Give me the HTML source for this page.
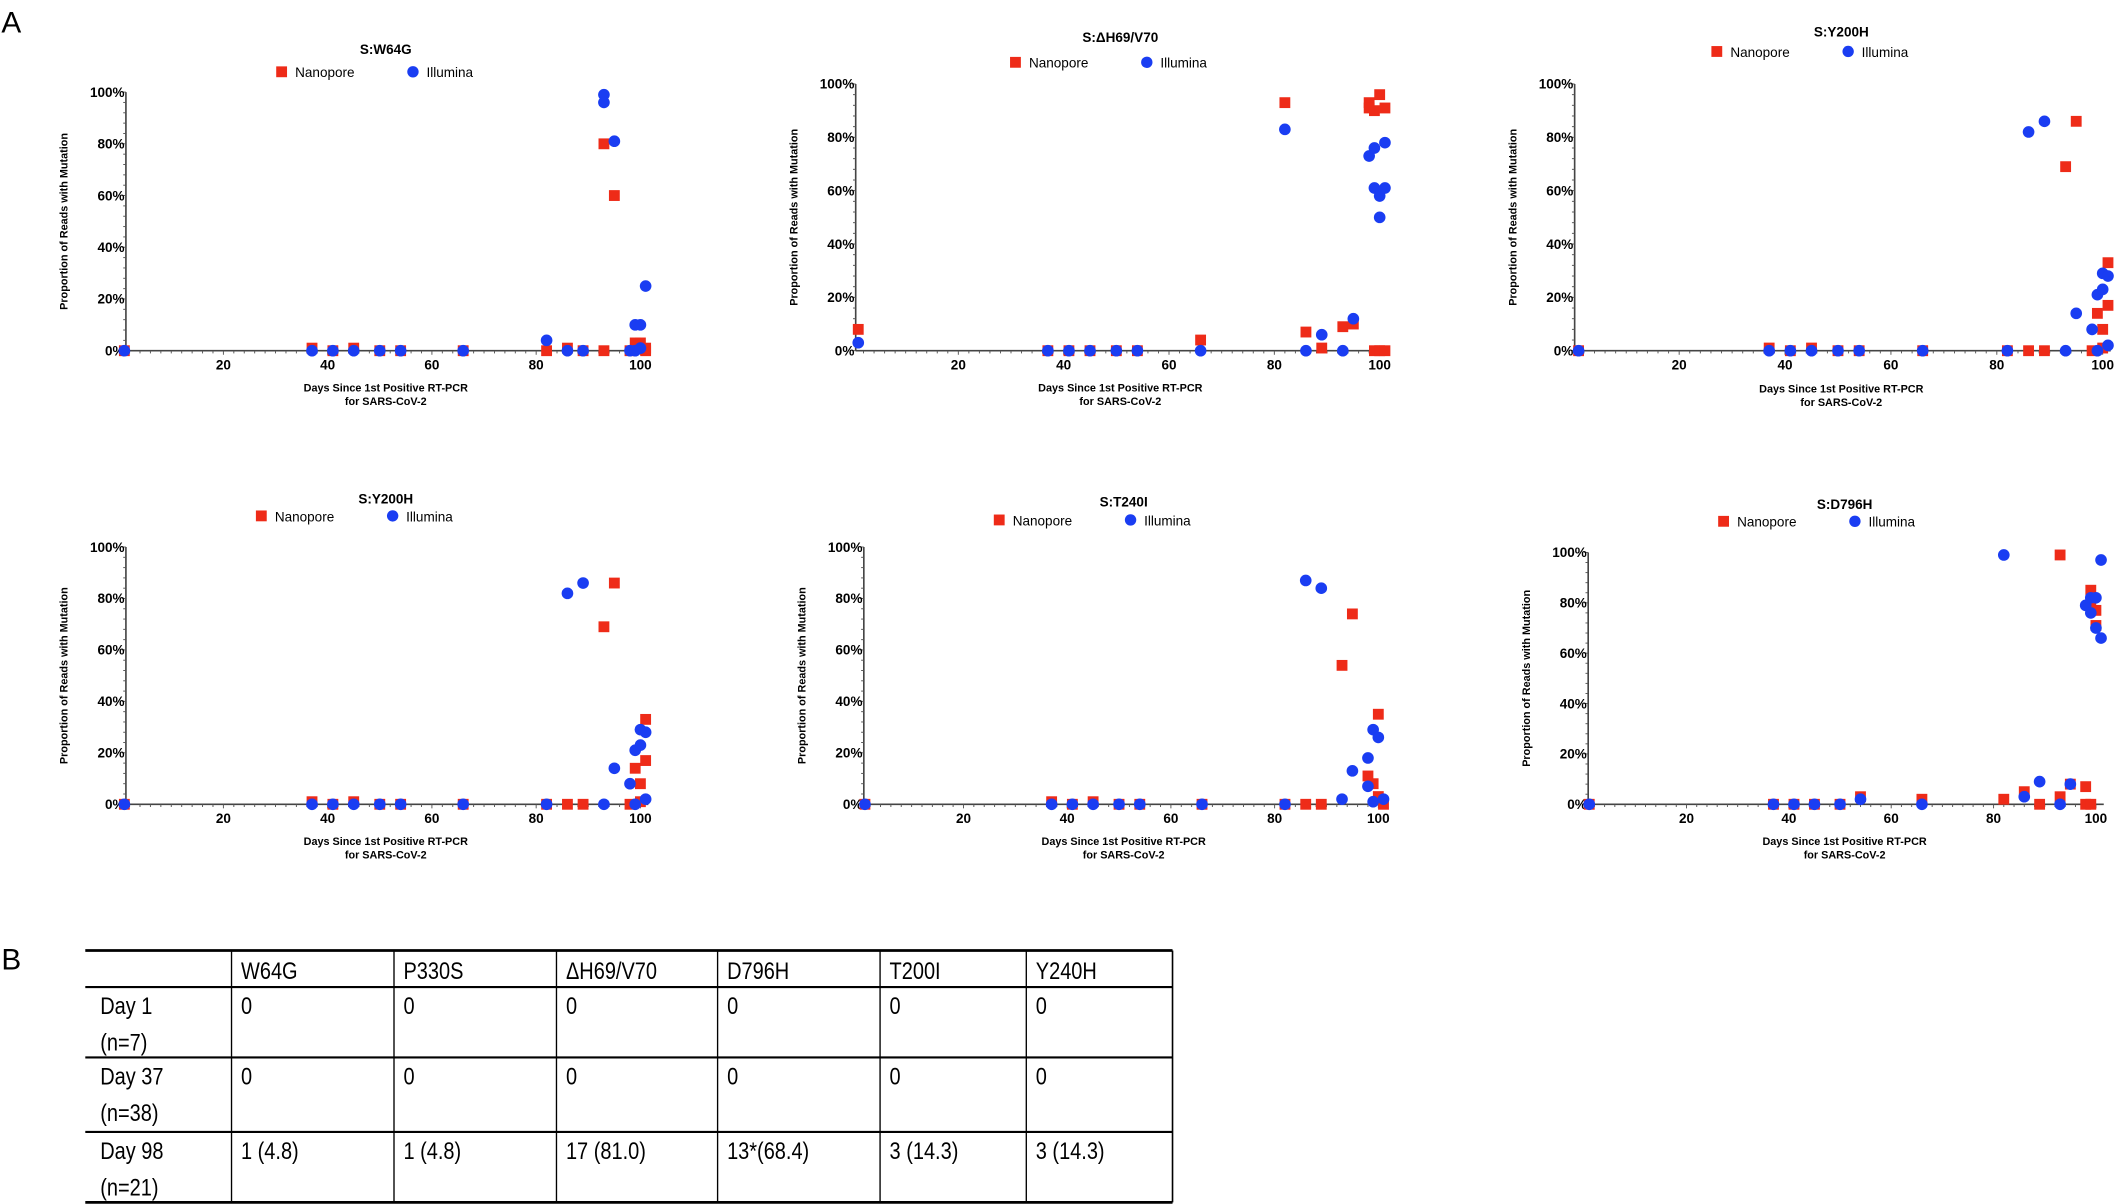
<!DOCTYPE html>
<html><head><meta charset="utf-8"><style>
html,body{margin:0;padding:0;background:#fff;}
svg{display:block;}
text{font-family:"Liberation Sans",Arial,sans-serif;}
</style></head><body>
<svg id="s" width="2123" height="1204" viewBox="0 0 1568 889.2" xmlns="http://www.w3.org/2000/svg">
<rect width="1568" height="890" fill="#fff"/>
<text x="1" y="24" font-size="22" font-family="Liberation Sans">A</text>
<text x="1" y="716" font-size="22" font-family="Liberation Sans">B</text>
<g id="g"></g>
<g id="tbl" font-size="18"></g>
</svg>
<script>
const g=document.getElementById('g');
let h='';
const R='#ee2b18',B='#1a3df2';
const zN=[[1,0],[37,1],[41,0],[45,1],[50,0],[54,0],[66,0],[82,0],[86,0],[89,0]];
const zI=[[1,0],[37,0],[41,0],[45,0],[50,0],[54,0],[66,0],[82,0],[86,0],[89,0]];
const p34={t:'S:Y200H',N:zN.concat([[93,69],[95,86],[98,0],[99,14],[100,8],[101,33],[101,17],[100,1]]),
 I:zI.filter(p=>p[0]<86).concat([[86,82],[89,86],[93,0],[95,14],[98,8],[99,21],[100,23],[100,29],[101,28],[101,2],[99,0]])};
const panels=[
 {ax:93,top:68,bot:259,x0:88,s:3.85,t:'S:W64G',ty:40,ly:57,xl:289,lx:230,
  N:[[1,0],[37,1],[41,0],[45,1],[50,0],[54,0],[66,0],[82,0],[86,1],[89,0],[93,0],[93,80],[95,60],[98,0],[99,3],[100,3],[101,0],[101,1]],
  I:[[1,0],[37,0],[41,0],[45,0],[50,0],[54,0],[66,0],[82,4],[86,0],[89,0],[93,99],[93,96],[95,81],[98,0],[99,10],[100,10],[101,25],[99,0],[100,1]]},
 {ax:632,top:62,bot:259,x0:630,s:3.89,t:'S:ΔH69/V70',ty:31,ly:50,xl:289,lx:772,
  N:[[1,8],[37,0],[41,0],[45,0],[50,0],[54,0],[66,4],[82,93],[86,7],[89,1],[93,9],[95,10],[98,93],[99,90],[100,96],[101,91],[99,0],[100,0],[101,0],[98,91]],
  I:[[1,3],[37,0],[41,0],[45,0],[50,0],[54,0],[66,0],[82,83],[86,0],[89,6],[93,0],[95,12],[98,73],[99,76],[99,61],[100,58],[100,50],[101,78],[101,61]]},
 {ax:1163,top:62,bot:259,x0:1162,s:3.91,t:'S:Y200H',ty:27,ly:42,xl:290,lx:1290,N:p34.N,I:p34.I},
 {ax:93,top:404,bot:594,x0:88,s:3.85,t:'S:Y200H',ty:372,ly:385,xl:624,lx:215,N:p34.N,I:p34.I},
 {ax:638,top:404,bot:594,x0:635,s:3.83,t:'S:T240I',ty:374,ly:388,xl:624,lx:760,
  N:zN.concat([[93,54],[95,74],[98,11],[99,8],[100,35],[100,3],[101,0]]),
  I:zI.filter(p=>p[0]<86).concat([[86,87],[89,84],[93,2],[95,13],[98,18],[99,29],[100,26],[98,7],[99,1],[101,2]])},
 {ax:1173,top:408,bot:594,x0:1170,s:3.78,t:'S:D796H',ty:376,ly:389,xl:624,lx:1295,
  N:[[1,0],[37,0],[41,0],[45,0],[50,0],[54,3],[66,2],[82,2],[86,5],[89,0],[93,3],[95,8],[98,7],[98,0],[93,99],[99,85],[100,77],[100,71],[99,0],[99,80]],
  I:[[1,0],[37,0],[41,0],[45,0],[50,0],[54,2],[66,0],[82,99],[86,3],[89,9],[93,0],[95,8],[98,79],[99,82],[99,76],[100,70],[101,66],[101,97],[100,82]]}
];
for(const p of panels){
 const X=d=>p.x0+p.s*d, Y=v=>p.bot-(p.bot-p.top)*v/100;
 const cx=(p.ax+X(101))/2;
 const xe=X(101)+2;
 h+=`<text x="${cx}" y="${p.ty}" font-size="10" font-weight="bold" text-anchor="middle">${p.t}</text>`;
 h+=`<rect x="${p.lx-26}" y="${p.ly-8}" width="8" height="8" fill="${R}"/><text x="${p.lx-12}" y="${p.ly}" font-size="10">Nanopore</text>`;
 h+=`<circle cx="${p.lx+75}" cy="${p.ly-4}" r="4.2" fill="${B}"/><text x="${p.lx+85}" y="${p.ly}" font-size="10">Illumina</text>`;
 h+=`<line x1="${p.ax}" y1="${p.top}" x2="${p.ax}" y2="${p.bot}" stroke="#444" stroke-width="1.2"/>`;
 h+=`<line x1="${p.ax}" y1="${p.bot}" x2="${xe}" y2="${p.bot}" stroke="#444" stroke-width="1.2"/>`;
 for(let v=0;v<=100;v+=4){const y=Y(v);h+=`<line x1="${p.ax-(v%20?2:3)}" y1="${y}" x2="${p.ax}" y2="${y}" stroke="#555" stroke-width="0.7"/>`;}
 for(let v=0;v<=100;v+=20){h+=`<text x="${p.ax-1}" y="${Y(v)+3.5}" font-size="10" font-weight="bold" text-anchor="end">${v}%</text>`;}
 for(let d=2;d<=100;d+=2){h+=`<line x1="${X(d)}" y1="${p.bot}" x2="${X(d)}" y2="${p.bot+(d%20?2:3)}" stroke="#555" stroke-width="0.7"/>`;}
 for(let d=20;d<=100;d+=20){h+=`<text x="${X(d)}" y="${p.bot+14}" font-size="10" font-weight="bold" text-anchor="middle">${d}</text>`;}
 h+=`<text x="${cx}" y="${p.xl}" font-size="8" font-weight="bold" text-anchor="middle">Days Since 1st Positive RT-PCR</text>`;
 h+=`<text x="${cx}" y="${p.xl+10}" font-size="8" font-weight="bold" text-anchor="middle">for SARS-CoV-2</text>`;
 const ym=(p.top+p.bot)/2;
 h+=`<text transform="translate(${p.ax-43},${ym}) rotate(-90)" font-size="8" font-weight="bold" text-anchor="middle">Proportion of Reads with Mutation</text>`;
 for(const [d,v] of p.N){h+=`<rect x="${X(d)-4}" y="${Y(v)-4}" width="8" height="8" fill="${R}"/>`;}
 for(const [d,v] of p.I){h+=`<circle cx="${X(d)}" cy="${Y(v)}" r="4.3" fill="${B}"/>`;}
}
g.innerHTML=h;
const cols=[63,171,291,411,530,650,758,866], rows=[702,729,781,836,888];
let t='';
const hd=['','W64G','P330S','ΔH69/V70','D796H','T200I','Y240H'];
const body=[['Day 1','(n=7)','0','0','0','0','0','0'],['Day 37','(n=38)','0','0','0','0','0','0'],['Day 98','(n=21)','1 (4.8)','1 (4.8)','17 (81.0)','13*(68.4)','3 (14.3)','3 (14.3)']];
const tx=(x,y,s)=>`<text transform="translate(${x},${y}) scale(0.82,1)">${s}</text>`;
for(let i=0;i<rows.length;i++){t+=`<line x1="${cols[0]}" y1="${rows[i]}" x2="${cols[7]}" y2="${rows[i]}" stroke="#000" stroke-width="${i==0||i==4?2:1.6}"/>`;}
for(let j=1;j<7;j++){t+=`<line x1="${cols[j]}" y1="${rows[0]}" x2="${cols[j]}" y2="${rows[4]}" stroke="#000" stroke-width="1"/>`;}
t+=`<line x1="${cols[7]}" y1="${rows[0]}" x2="${cols[7]}" y2="${rows[4]}" stroke="#000" stroke-width="1.2"/>`;
for(let j=1;j<7;j++){t+=tx(cols[j]+7,rows[0]+21,hd[j]);}
for(let i=0;i<3;i++){const y=rows[i+1];
 t+=tx(cols[0]+11,y+20,body[i][0])+tx(cols[0]+11,y+47,body[i][1]);
 for(let j=1;j<7;j++){t+=tx(cols[j]+7,y+20,body[i][j+1]);}}
document.getElementById('tbl').innerHTML=t;
</script>
</body></html>
